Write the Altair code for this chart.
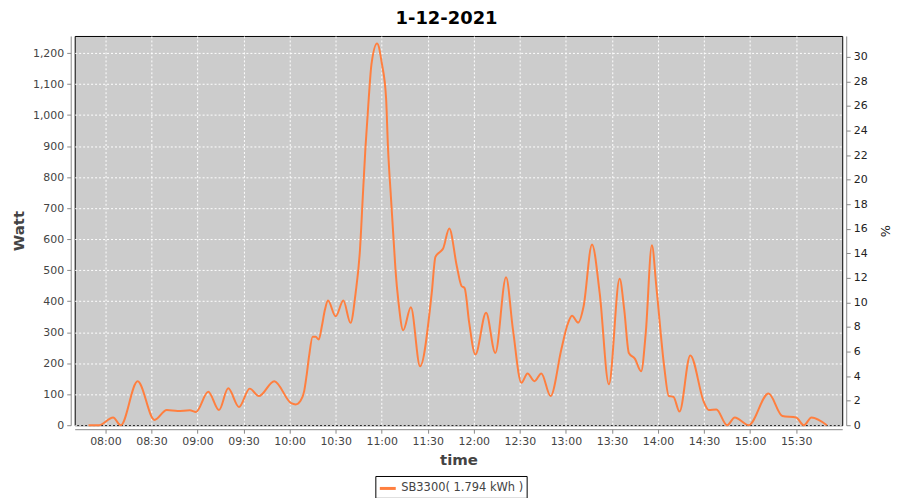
import altair as alt
import pandas as pd

# ---- data ----
times = [
    "07:49", "07:56", "08:05", "08:10", "08:21", "08:32", "08:40", "08:47", "08:55", "08:59",
    "09:07", "09:14", "09:20", "09:27", "09:34", "09:40", "09:50", "10:01", "10:04", "10:07",
    "10:09:30", "10:11", "10:12:40", "10:15", "10:17", "10:19", "10:21", "10:23", "10:25", "10:30",
    "10:35", "10:39:40", "10:43", "10:45:50", "10:47:40", "10:49:25", "10:51:35", "10:53:20", "10:57", "11:00:10",
    "11:02:50", "11:04:05", "11:06", "11:08:10", "11:09", "11:11", "11:14", "11:19", "11:25", "11:32:35",
    "11:35", "11:38", "11:40", "11:44", "11:49", "11:52", "11:54", "11:57", "12:01", "12:08",
    "12:14", "12:21", "12:25:30", "12:31", "12:35", "12:39:30", "12:44", "12:50", "12:57", "13:01",
    "13:04", "13:08", "13:11:30", "13:17", "13:22", "13:28", "13:35", "13:38", "13:41", "13:45",
    "13:49", "13:52", "13:56", "13:59", "14:04", "14:07", "14:10", "14:14", "14:21", "14:30",
    "14:33", "14:38", "14:45", "14:50", "14:59", "15:12", "15:21", "15:30", "15:35", "15:40",
    "15:50",
]
watts = [
    0, 0, 25, 0, 142, 17, 49, 46, 48, 43,
    108, 49, 119, 59, 118, 94, 142, 71, 67, 78,
    110, 158, 222, 285, 285, 276, 319, 372, 402, 351,
    402, 330, 426, 565, 736, 896, 1056, 1164, 1231, 1164,
    1056, 896, 736, 565, 500, 394, 306, 380, 190, 426,
    543, 559, 570, 634, 511, 449, 442, 330, 228, 363,
    233, 477, 308, 137, 167, 142, 167, 94, 244, 324,
    353, 331, 383, 583, 426, 132, 472, 372, 233, 214,
    174, 297, 580, 442, 190, 94, 92, 44, 225, 73,
    49, 51, 0, 25, 0, 102, 30, 25, 0, 25,
    0,
]
series_label = "SB3300( 1.794 kWh )"
x_tick_hours = [8, 8, 9, 9, 10, 10, 11, 11, 12, 12, 13, 13, 14, 14, 15, 15]
x_tick_minutes = [0, 30, 0, 30, 0, 30, 0, 30, 0, 30, 0, 30, 0, 30, 0, 30]
watt_ticks = list(range(0, 1300, 100))
pct_ticks = list(range(0, 32, 2))
watt_max = 1255
pct_max = 31.7

df = pd.DataFrame({
    "time": ["2021-12-01T" + t for t in times],
    "watt": watts,
    "series": series_label,
})


def dt(h, m):
    return alt.DateTime(year=2021, month=12, date=1, hours=h, minutes=m)


x_enc = alt.X(
    "time:T",
    scale=alt.Scale(domain=[dt(7, 40), dt(16, 0)]),
    axis=alt.Axis(
        values=[dt(h, m) for h, m in zip(x_tick_hours, x_tick_minutes)],
        format="%H:%M",
        title="time",
        offset=4,
        tickSize=4,
        labelPadding=2,
        titlePadding=6,
        grid=True,
    ),
)

line = alt.Chart(df).mark_line(interpolate="monotone", strokeWidth=2).encode(
    x=x_enc,
    y=alt.Y(
        "watt:Q",
        scale=alt.Scale(domain=[0, watt_max], nice=False),
        axis=alt.Axis(
            values=watt_ticks,
            format=",d",
            title="Watt",
            orient="left",
            offset=4,
            tickSize=4,
            labelPadding=3,
            titlePadding=6,
            grid=True,
        ),
    ),
    color=alt.Color(
        "series:N",
        scale=alt.Scale(range=["#ff7f3f"]),
        legend=alt.Legend(
            title=None,
            orient="none",
            legendX=302,
            legendY=442,
            strokeColor="black",
            fillColor="white",
            padding=3,
            symbolType="stroke",
            symbolStrokeWidth=3,
            symbolSize=256,
            labelFont="DejaVu Sans",
            labelFontSize=11.5,
            labelColor="#444444",
        ),
    ),
)

pct_layer = alt.Chart(df).transform_calculate(pct="datum.watt * 0").mark_line(opacity=0).encode(
    x=alt.X("time:T"),
    y=alt.Y(
        "pct:Q",
        scale=alt.Scale(domain=[0, pct_max], nice=False),
        axis=alt.Axis(
            values=pct_ticks,
            title="%",
            orient="right",
            offset=4,
            tickSize=4,
            labelPadding=3,
            titlePadding=10,
            grid=False,
            labelColor="#222222",
            titleColor="#222222",
            titleFontWeight="normal",
            titleFontSize=13,
        ),
    ),
)

chart = (
    alt.layer(line, pct_layer)
    .resolve_scale(y="independent")
    .properties(
        width=771,
        height=391,
        padding={"left": 67, "top": 27, "right": 50, "bottom": 72},
        autosize=alt.AutoSizeParams(type="none"),
        title=alt.TitleParams(
            text="1-12-2021",
            font="DejaVu Sans",
            fontSize=18,
            fontWeight="bold",
            color="black",
            anchor="middle",
            offset=8,
            dx=-12,
        ),
    )
    .configure_view(fill="#cccccc", stroke="black", strokeWidth=1)
    .configure_axis(
        domainColor="#888888",
        tickColor="#888888",
        labelColor="#444444",
        labelFont="DejaVu Sans",
        labelFontSize=11,
        titleFont="DejaVu Sans",
        titleFontSize=15,
        titleFontWeight="bold",
        titleColor="#444444",
        gridColor="white",
        gridDash=[2, 2],
        gridOpacity=1,
        gridWidth=1,
    )
)

chart.save("out.html", embed_options={"renderer": "svg", "actions": False})
